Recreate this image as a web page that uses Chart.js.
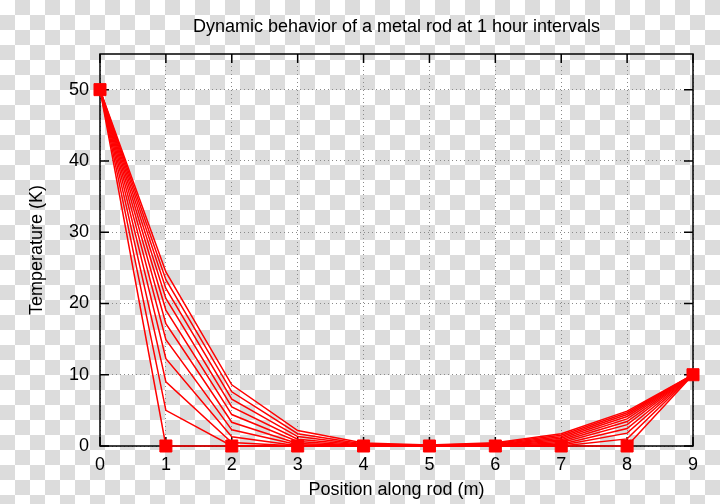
<!DOCTYPE html>
<html>
<head>
<meta charset="utf-8">
<script src="https://cdn.jsdelivr.net/npm/chart.js@4/dist/chart.umd.min.js"></script>
<style>
  html, body { margin: 0; padding: 0; }
  body {
    width: 720px; height: 504px; overflow: hidden;
    background: repeating-conic-gradient(#dcdcdc 0 25%, #ffffff 0 50%) 0 0 / 30px 30px;
  }
  canvas { display: block; }
</style>
</head>
<body>
<canvas id="grafico" width="720" height="504"></canvas>
<script>
// Posiciones a lo largo de la barra (m)
const posiciones = ['0', '1', '2', '3', '4', '5', '6', '7', '8', '9'];

// Temperatura (K) en cada hora
const hora0  = [50, 0, 0, 0, 0, 0, 0, 0, 0, 10];
const hora1  = [50, 5, 0, 0, 0, 0, 0, 0, 1, 10];
const hora2  = [50, 9, 0.5, 0, 0, 0, 0, 0.1, 1.8, 10];
const hora3  = [50, 12.25, 1.3, 0.05, 0, 0, 0.01, 0.26, 2.45, 10];
const hora4  = [50, 14.93, 2.27, 0.17, 0.01, 0, 0.03, 0.45, 2.99, 10];
const hora5  = [50, 17.17, 3.33, 0.36, 0.02, 0, 0.07, 0.67, 3.43, 10];
const hora6  = [50, 19.07, 4.41, 0.63, 0.05, 0.01, 0.13, 0.88, 3.81, 10];
const hora7  = [50, 20.7, 5.5, 0.95, 0.11, 0.03, 0.19, 1.1, 4.14, 10];
const hora8  = [50, 22.11, 6.57, 1.32, 0.18, 0.05, 0.26, 1.31, 4.42, 10];
const hora9  = [50, 23.34, 7.6, 1.73, 0.28, 0.09, 0.35, 1.52, 4.67, 10];
const hora10 = [50, 24.43, 8.58, 2.17, 0.41, 0.13, 0.44, 1.72, 4.89, 10];

const yTicks = [0, 10, 20, 30, 40, 50];

const horas = [hora0, hora1, hora2, hora3, hora4, hora5, hora6, hora7, hora8, hora9, hora10];

const fuente = { family: "'Liberation Sans', Arial, sans-serif", size: 18 };

// Una linea por hora; solo la inicial lleva marcadores cuadrados
const datasets = horas.map((valores, i) => ({
  label: 'Hora ' + i,
  data: valores,
  borderColor: '#ff0000',
  backgroundColor: '#ff0000',
  borderWidth: 1.5,
  pointStyle: 'rect',
  pointRadius: i === 0 ? 8.5 : 0,
  pointBorderWidth: 1,
  pointHoverRadius: i === 0 ? 8.5 : 0,
  tension: 0,
  fill: false,
  clip: false
}));

// Marco negro y marcas de escala hacia adentro (estilo gnuplot)
const marco = {
  id: 'marco',
  afterLayout(chart) {
    // centrar el titulo sobre el area del grafico
    if (chart.titleBlock) {
      chart.titleBlock.left = chart.chartArea.left;
      chart.titleBlock.right = chart.chartArea.right;
    }
  },
  beforeDatasetsDraw(chart) {
    const { ctx, chartArea: a, scales } = chart;
    const largo = 9;
    ctx.save();
    ctx.strokeStyle = '#000';
    ctx.lineWidth = 1.5;
    ctx.beginPath();
    posiciones.forEach((p, i) => {
      const x = scales.x.getPixelForValue(i);
      ctx.moveTo(x, a.bottom); ctx.lineTo(x, a.bottom - largo);
      ctx.moveTo(x, a.top); ctx.lineTo(x, a.top + largo);
    });
    yTicks.forEach(v => {
      const y = scales.y.getPixelForValue(v);
      ctx.moveTo(a.left, y); ctx.lineTo(a.left + largo, y);
      ctx.moveTo(a.right, y); ctx.lineTo(a.right - largo, y);
    });
    ctx.stroke();
    ctx.strokeRect(a.left, a.top, a.right - a.left, a.bottom - a.top);
    ctx.restore();
  }
};

new Chart(document.getElementById('grafico'), {
  type: 'line',
  data: { labels: posiciones, datasets: datasets },
  options: {
    responsive: false,
    animation: false,
    layout: { padding: { left: 0, right: 27, top: 0, bottom: 0 } },
    plugins: {
      legend: { display: false },
      tooltip: { enabled: false },
      title: {
        display: true,
        text: 'Dynamic behavior of a metal rod at 1 hour intervals',
        color: '#000',
        font: { ...fuente, weight: 'normal' },
        padding: { top: 16, bottom: 16.4 }
      }
    },
    scales: {
      x: {
        offset: false,
        afterFit(scale) { scale.height = 58; },
        grid: { offset: false, drawTicks: false, color: '#8a8a8a', lineWidth: 1 },
        border: { display: false, dash: [1, 3] },
        ticks: { color: '#000', font: fuente, padding: 8, maxRotation: 0 },
        title: {
          display: true,
          text: 'Position along rod (m)',
          color: '#000',
          font: fuente,
          padding: { top: 0, bottom: 3 }
        }
      },
      y: {
        min: 0,
        max: 55,
        afterFit(scale) { scale.width = 100; },
        afterBuildTicks(scale) {
          scale.ticks = yTicks.map(v => ({ value: v }));
        },
        grid: { drawTicks: false, color: '#8a8a8a', lineWidth: 1 },
        border: { display: false, dash: [1, 3] },
        ticks: { color: '#000', font: fuente, padding: 11 },
        title: {
          display: true,
          text: 'Temperature (K)',
          color: '#000',
          font: fuente,
          padding: { top: 26, bottom: 0 }
        }
      }
    }
  },
  plugins: [marco]
});
</script>
</body>
</html>
